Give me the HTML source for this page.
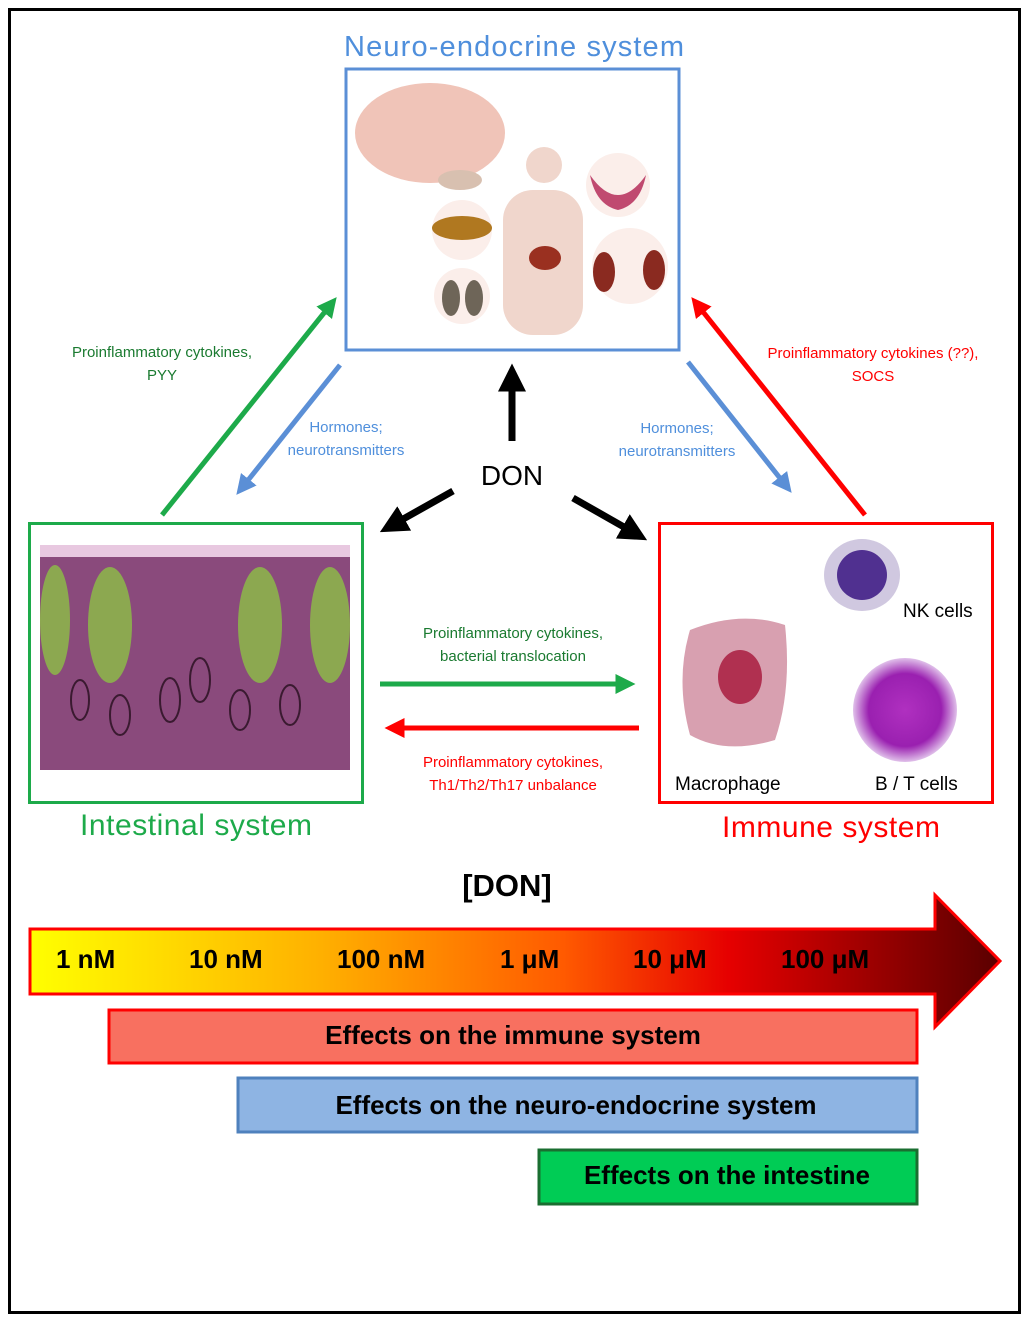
<!DOCTYPE html>
<html><head><meta charset="utf-8"><style>
body{margin:0;background:#fff;width:1024px;height:1323px;overflow:hidden}
svg{display:block}
text{font-family:"Liberation Sans","DejaVu Sans",sans-serif}
</style></head><body>
<svg width="1024" height="1323" viewBox="0 0 1024 1323">
<defs>
<linearGradient id="g" x1="0" x2="1">
<stop offset="0" stop-color="#ffff00"/><stop offset="0.3" stop-color="#ffb000"/>
<stop offset="0.55" stop-color="#ff5a00"/><stop offset="0.72" stop-color="#e60000"/>
<stop offset="1" stop-color="#5a0000"/></linearGradient>
<marker id="mk" markerWidth="4" markerHeight="4" refX="2.5" refY="2" orient="auto" markerUnits="strokeWidth"><path d="M0,0 L4,2 L0,4z" fill="context-stroke"/></marker>
<radialGradient id="cell" cx="0.5" cy="0.5" r="0.5"><stop offset="0" stop-color="#b030c0"/><stop offset="0.7" stop-color="#9a20b0"/><stop offset="1" stop-color="#e0c0ea"/></radialGradient>
</defs>
<rect x="9.5" y="9.5" width="1010" height="1303" fill="#fff" stroke="#000" stroke-width="3"/>

<text x="514" y="56" font-size="29" fill="#4f8fdc" text-anchor="middle" textLength="340">Neuro-endocrine system</text>
<rect x="346" y="69" width="333" height="281" fill="#fff" stroke="#5b8fd6" stroke-width="3"/>
<ellipse cx="430" cy="133" rx="75" ry="50" fill="#f0c4b8"/>
<ellipse cx="460" cy="180" rx="22" ry="10" fill="#d8c0b0"/>
<rect x="503" y="190" width="80" height="145" rx="30" fill="#f0d6cc"/>
<circle cx="544" cy="165" r="18" fill="#f0d6cc"/>
<circle cx="462" cy="230" r="30" fill="#fbeeea"/><ellipse cx="462" cy="228" rx="30" ry="12" fill="#b07820"/>
<circle cx="462" cy="296" r="28" fill="#fbeeea"/><ellipse cx="451" cy="298" rx="9" ry="18" fill="#6e6558"/><ellipse cx="474" cy="298" rx="9" ry="18" fill="#6e6558"/>
<circle cx="618" cy="185" r="32" fill="#fbeeea"/><path d="M590 175 Q618 215 646 175 Q640 205 618 210 Q596 205 590 175z" fill="#c04a70"/>
<circle cx="630" cy="266" r="38" fill="#fbeeea"/><ellipse cx="604" cy="272" rx="11" ry="20" fill="#8a2a20"/><ellipse cx="654" cy="270" rx="11" ry="20" fill="#8a2a20"/>
<ellipse cx="545" cy="258" rx="16" ry="12" fill="#9a3020"/>

<rect x="29.5" y="523.5" width="333" height="279" fill="#fff" stroke="#1daa4a" stroke-width="3"/>
<rect x="40" y="545" width="310" height="225" fill="#8a4a7c"/>
<rect x="40" y="545" width="310" height="12" fill="#e8c8e0"/>
<ellipse cx="55" cy="620" rx="15" ry="55" fill="#8ca850"/>
<ellipse cx="110" cy="625" rx="22" ry="58" fill="#8ca850"/>
<ellipse cx="260" cy="625" rx="22" ry="58" fill="#8ca850"/>
<ellipse cx="330" cy="625" rx="20" ry="58" fill="#8ca850"/>
<g fill="none" stroke="#3a1a30" stroke-width="2"><ellipse cx="170" cy="700" rx="10" ry="22"/><ellipse cx="200" cy="680" rx="10" ry="22"/><ellipse cx="240" cy="710" rx="10" ry="20"/><ellipse cx="120" cy="715" rx="10" ry="20"/><ellipse cx="290" cy="705" rx="10" ry="20"/><ellipse cx="80" cy="700" rx="9" ry="20"/></g>
<text x="196" y="835" font-size="30" fill="#1daa4a" text-anchor="middle" textLength="232">Intestinal system</text>

<rect x="659.5" y="523.5" width="333" height="279" fill="#fff" stroke="#f00" stroke-width="3"/>
<path d="M690 630 Q740 610 785 625 Q792 690 775 740 Q725 755 690 735 Q675 680 690 630z" fill="#d8a0b0"/>
<ellipse cx="740" cy="677" rx="22" ry="27" fill="#b03050"/>
<circle cx="905" cy="710" r="52" fill="url(#cell)"/>
<ellipse cx="862" cy="575" rx="38" ry="36" fill="#d0c8e0"/><ellipse cx="862" cy="575" rx="25" ry="25" fill="#503090"/>
<text x="903" y="617" font-size="19" fill="#000">NK cells</text>
<text x="675" y="790" font-size="19" fill="#000">Macrophage</text>
<text x="875" y="790" font-size="19" fill="#000">B / T cells</text>
<text x="831" y="837" font-size="30" fill="#f00" text-anchor="middle" textLength="218">Immune system</text>

<line x1="162" y1="515" x2="332" y2="303" stroke="#1daa4a" stroke-width="5" marker-end="url(#mk)"/>
<line x1="340" y1="365" x2="241" y2="489" stroke="#5b8fd6" stroke-width="5" marker-end="url(#mk)"/>
<line x1="865" y1="515" x2="696" y2="303" stroke="#f00" stroke-width="5" marker-end="url(#mk)"/>
<line x1="688" y1="362" x2="787" y2="487" stroke="#5b8fd6" stroke-width="5" marker-end="url(#mk)"/>
<line x1="512" y1="441" x2="512" y2="374" stroke="#000" stroke-width="7" marker-end="url(#mk)"/>
<line x1="453" y1="491" x2="389" y2="527" stroke="#000" stroke-width="7" marker-end="url(#mk)"/>
<line x1="573" y1="498" x2="638" y2="535" stroke="#000" stroke-width="7" marker-end="url(#mk)"/>
<line x1="380" y1="684" x2="628" y2="684" stroke="#1daa4a" stroke-width="5" marker-end="url(#mk)"/>
<line x1="639" y1="728" x2="392" y2="728" stroke="#f00" stroke-width="5" marker-end="url(#mk)"/>

<text x="512" y="485" font-size="28" fill="#000" text-anchor="middle">DON</text>
<g font-size="15" text-anchor="middle">
<text x="162" y="357" fill="#1a7a30">Proinflammatory cytokines,</text><text x="162" y="380" fill="#1a7a30">PYY</text>
<text x="346" y="432" fill="#4f8fdc">Hormones;</text><text x="346" y="455" fill="#4f8fdc">neurotransmitters</text>
<text x="677" y="433" fill="#4f8fdc">Hormones;</text><text x="677" y="456" fill="#4f8fdc">neurotransmitters</text>
<text x="873" y="358" fill="#f00">Proinflammatory cytokines (??),</text><text x="873" y="381" fill="#f00">SOCS</text>
<text x="513" y="638" fill="#1a7a30">Proinflammatory cytokines,</text><text x="513" y="661" fill="#1a7a30">bacterial translocation</text>
<text x="513" y="767" fill="#f00">Proinflammatory cytokines,</text><text x="513" y="790" fill="#f00">Th1/Th2/Th17 unbalance</text>
</g>

<text x="507" y="896" font-size="31" font-weight="bold" text-anchor="middle">[DON]</text>
<path d="M30 929 L935 929 L935 895 L1000 961 L935 1027 L935 994 L30 994z" fill="url(#g)" stroke="#f00" stroke-width="3"/>
<g font-size="26" font-weight="bold" fill="#000">
<text x="56" y="968">1 nM</text><text x="189" y="968">10 nM</text><text x="337" y="968">100 nM</text>
<text x="500" y="968">1 μM</text><text x="633" y="968">10 μM</text><text x="781" y="968">100 μM</text>
</g>
<rect x="109" y="1010" width="808" height="53" fill="#f87060" stroke="#f00" stroke-width="3"/>
<text x="513" y="1044" font-size="26" font-weight="bold" text-anchor="middle">Effects on the immune system</text>
<rect x="238" y="1078" width="679" height="54" fill="#8eb4e3" stroke="#4f81bd" stroke-width="3"/>
<text x="576" y="1114" font-size="26" font-weight="bold" text-anchor="middle">Effects on the neuro-endocrine system</text>
<rect x="539" y="1150" width="378" height="54" fill="#00cc55" stroke="#1a6e30" stroke-width="3"/>
<text x="727" y="1184" font-size="26" font-weight="bold" text-anchor="middle">Effects on the intestine</text>
</svg>
</body></html>
